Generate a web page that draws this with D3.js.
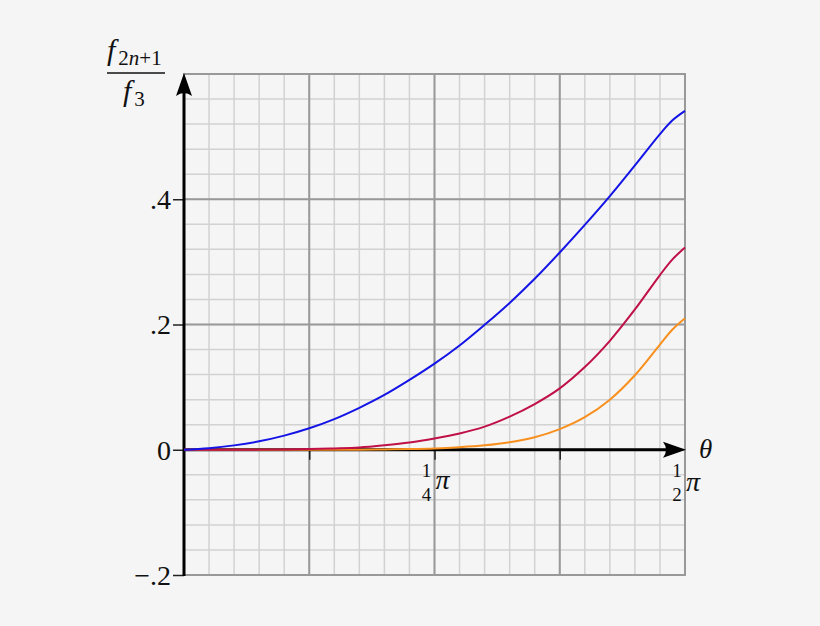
<!DOCTYPE html>
<html>
<head>
<meta charset="utf-8">
<script src="https://cdn.jsdelivr.net/npm/d3@7"></script>
<style>
  html, body { margin: 0; padding: 0; background: #f5f5f5; }
  svg { display: block; }
  text { font-family: "Liberation Serif", "DejaVu Serif", serif; fill: #111; }
</style>
</head>
<body>
<svg width="820" height="626"></svg>
<script>
// theta in units of pi
var thetaPi = [0, 0.025, 0.05, 0.075, 0.1, 0.125, 0.15, 0.175, 0.2, 0.225, 0.25, 0.275,
               0.3, 0.325, 0.35, 0.375, 0.4, 0.425, 0.45, 0.475, 0.4875, 0.5];
var blueVals = [0, 0.0025, 0.007, 0.0135, 0.0226, 0.0343, 0.049, 0.067, 0.0875, 0.1115, 0.1375, 0.1665,
                0.1995, 0.2345, 0.273, 0.315, 0.359, 0.405, 0.454, 0.504, 0.526, 0.541];
var redVals = [0, 0, 0, 0.0002, 0.0005, 0.001, 0.002, 0.0035, 0.007, 0.0115, 0.018, 0.026,
               0.037, 0.053, 0.073, 0.098, 0.132, 0.174, 0.224, 0.279, 0.304, 0.323];
var orangeVals = [0, 0, 0, 0, 0, 0, 0, 0, 0.0005, 0.001, 0.002, 0.004,
                  0.007, 0.012, 0.020, 0.033, 0.052, 0.080, 0.119, 0.168, 0.192, 0.210];

var yTicks = [-0.2, 0, 0.2, 0.4];
var yTickLabels = ["\u2212.2", "0", ".2", ".4"];
var xTicks = [0.125, 0.25, 0.375];
var xMajor = [0, 0.125, 0.25, 0.375, 0.5];
var yMajor = [-0.2, 0, 0.2, 0.4, 0.6];
var xFracTicks = [0.25, 0.5];
var xFracDen = ["4", "2"];

function main() {
	var svg = d3.select("svg");

	var x = d3.scaleLinear().domain([0, 0.5]).range([184, 685]),
		y = d3.scaleLinear().domain([-0.2, 0.6]).range([575, 74]);

	var xMinor = d3.range(0, 0.5001, 0.025),
		yMinor = d3.range(-0.2, 0.6001, 0.04);

	// grid
	var grid = svg.append("g");
	grid.selectAll(".vmin").data(xMinor).enter().append("line")
		.attr("x1", function(d){ return x(d); }).attr("x2", function(d){ return x(d); })
		.attr("y1", y(-0.2)).attr("y2", y(0.6))
		.attr("stroke", "#d2d2d2").attr("stroke-width", 1.5);
	grid.selectAll(".hmin").data(yMinor).enter().append("line")
		.attr("y1", function(d){ return y(d); }).attr("y2", function(d){ return y(d); })
		.attr("x1", x(0)).attr("x2", x(0.5))
		.attr("stroke", "#d2d2d2").attr("stroke-width", 1.5);
	grid.selectAll(".vmaj").data(xMajor).enter().append("line")
		.attr("x1", function(d){ return x(d); }).attr("x2", function(d){ return x(d); })
		.attr("y1", y(-0.2) + 1).attr("y2", y(0.6) - 1)
		.attr("stroke", "#999").attr("stroke-width", 2);
	grid.selectAll(".hmaj").data(yMajor).enter().append("line")
		.attr("y1", function(d){ return y(d); }).attr("y2", function(d){ return y(d); })
		.attr("x1", x(0)).attr("x2", x(0.5) + 1)
		.attr("stroke", "#999").attr("stroke-width", 2);

	// axes ticks and labels
	var ya = svg.append("g").attr("transform", "translate(" + x(0) + ",0)")
		.call(d3.axisLeft(y).tickValues(yTicks).tickSize(11).tickPadding(2)
			.tickFormat(function(d, i){ return yTickLabels[i]; }));
	ya.attr("font-family", null);
	ya.select(".domain").remove();
	ya.selectAll(".tick line").attr("stroke", "#222").attr("stroke-width", 1.5);
	ya.selectAll(".tick text").attr("font-size", 28)
		.attr("fill", "#111").attr("dy", "0.33em");

	var xa = svg.append("g").attr("transform", "translate(0," + y(0) + ")")
		.call(d3.axisBottom(x).tickValues(xTicks).tickSize(10).tickFormat(""));
	xa.select(".domain").remove();
	xa.selectAll(".tick line").attr("stroke", "#222").attr("stroke-width", 1.5);

	// axis lines with arrows
	svg.append("line").attr("x1", x(0)).attr("x2", x(0.5) - 8)
		.attr("y1", y(0)).attr("y2", y(0)).attr("stroke", "#000").attr("stroke-width", 3);
	svg.append("line").attr("x1", x(0)).attr("x2", x(0))
		.attr("y1", y(-0.2) + 1).attr("y2", y(0.6) + 8).attr("stroke", "#000").attr("stroke-width", 3);

	var tx = x(0.5) + 1, ty = y(0);
	svg.append("path")
		.attr("d", "M" + tx + "," + ty + " L" + (tx - 23) + "," + (ty - 8) + " Q" + (tx - 17) + "," + ty + " " + (tx - 23) + "," + (ty + 8) + " Z")
		.attr("fill", "#000");
	var ax = x(0), ay = y(0.6) - 1;
	svg.append("path")
		.attr("d", "M" + ax + "," + ay + " L" + (ax - 8) + "," + (ay + 23) + " Q" + ax + "," + (ay + 17) + " " + (ax + 8) + "," + (ay + 23) + " Z")
		.attr("fill", "#000");

	// curves
	var series = [
		{ vals: orangeVals, color: "#f7901e" },
		{ vals: redVals, color: "#c01048" },
		{ vals: blueVals, color: "#1414e6" }
	];
	var line = d3.line()
		.x(function(d){ return x(d[0]); })
		.y(function(d){ return y(d[1]); })
		.curve(d3.curveCatmullRom.alpha(0.5));
	series.forEach(function(s){
		svg.append("path")
			.datum(thetaPi.map(function(t, i){ return [t, s.vals[i]]; }))
			.attr("d", line)
			.attr("fill", "none")
			.attr("stroke", s.color)
			.attr("stroke-width", 2);
	});

	// x fraction labels
	xFracTicks.forEach(function(t, i){
		var cx = x(t) - 8;
		svg.append("text").attr("x", cx).attr("y", 477).attr("text-anchor", "middle")
			.attr("font-size", 19).text("1");
		svg.append("text").attr("x", cx).attr("y", 501).attr("text-anchor", "middle")
			.attr("font-size", 19).text(xFracDen[i]);
		svg.append("text").attr("x", x(t) + 1).attr("y", 489 + i * 2)
			.attr("font-size", 28).attr("font-style", "italic").text("\u03c0");
	});

	// theta label
	svg.append("text").attr("x", 699).attr("y", 458).attr("font-size", 27)
		.attr("font-style", "italic").text("\u03b8");

	// y label: f_{2n+1} / f_3
	var num = svg.append("text").attr("x", 107).attr("y", 60).attr("font-size", 30);
	num.append("tspan").attr("font-style", "italic").text("f");
	num.append("tspan").attr("dx", 3).attr("dy", 5).attr("font-size", 21).text("2");
	num.append("tspan").attr("font-size", 21).attr("font-style", "italic").text("n");
	num.append("tspan").attr("font-size", 21).text("+1");
	svg.append("line").attr("x1", 107).attr("x2", 165).attr("y1", 73).attr("y2", 73)
		.attr("stroke", "#111").attr("stroke-width", 1.5);
	var den = svg.append("text").attr("x", 123).attr("y", 101).attr("font-size", 30);
	den.append("tspan").attr("font-style", "italic").text("f");
	den.append("tspan").attr("dx", 3).attr("dy", 5).attr("font-size", 21).text("3");
}
main();
</script>
</body>
</html>
